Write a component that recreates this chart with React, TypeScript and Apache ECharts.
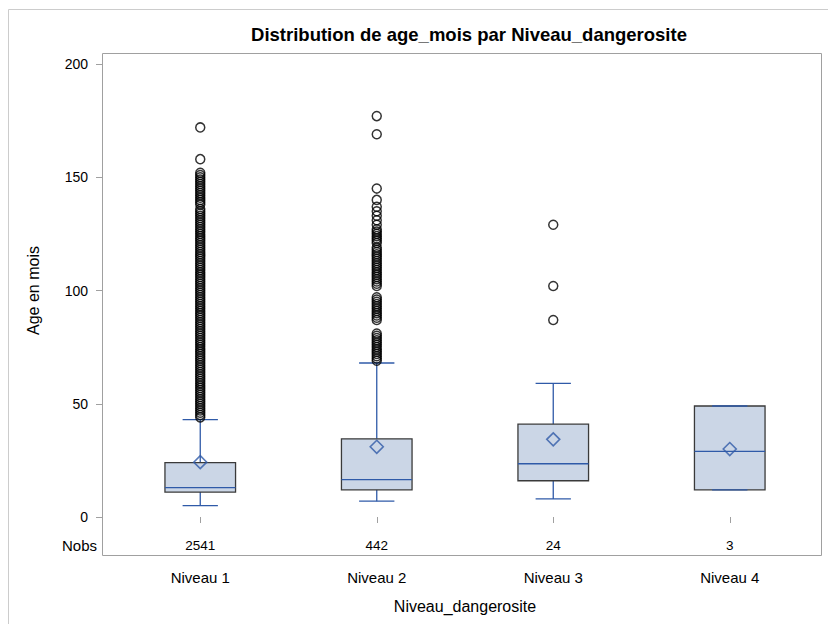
import React, { useEffect, useRef } from "react";
import * as echarts from "echarts";

const categories = ["Niveau 1", "Niveau 2", "Niveau 3", "Niveau 4"];
const whiskerLow = [5, 7, 8, 12];
const q1 = [11, 12, 16, 12];
const median = [13, 16.5, 23.5, 29];
const q3 = [24, 34.5, 41, 49];
const whiskerHigh = [43, 68, 59, 49];
const means = [24.2, 31, 34.3, 30];
const nobs = [2541, 442, 24, 3];

const outliers1 = [
  44, 45, 46, 47, 48, 49, 50, 51, 52, 53, 54, 55, 56, 57, 58, 59, 60, 61, 62, 63, 64, 65,
  66, 67, 68, 69, 70, 71, 72, 73, 74, 75, 76, 77, 78, 79, 80, 81, 82, 83, 84, 85, 86, 87,
  88, 89, 90, 91, 92, 93, 94, 95, 96, 97, 98, 99, 100, 101, 102, 103, 104, 105, 106, 107,
  108, 109, 110, 111, 112, 113, 114, 115, 116, 117, 118, 119, 120, 121, 122, 123, 124, 125,
  126, 127, 128, 129, 130, 131, 132, 133, 134, 135, 136, 138, 139, 140, 141, 142, 143, 144,
  145, 146, 147, 148, 149, 150, 151, 152, 158, 172,
];
const outliers2 = [
  69, 70, 71, 72, 73, 74, 75, 76, 77, 78, 79, 80, 81, 87, 88, 89, 90, 91, 92, 93, 94, 95,
  96, 97, 102, 103, 104, 105, 106, 107, 108, 109, 110, 111, 112, 113, 114, 115, 116, 117,
  118, 119, 121, 122, 123, 124, 125, 126, 127, 129, 131, 133, 135, 137, 140, 145, 169, 177,
];
const outliers3 = [87, 102, 129];
const outliers4: number[] = [];

const yTicks = { min: 0, max: 200, interval: 50 };

const FONT = "'Liberation Sans', Arial, sans-serif";
const BLUE = "#2f5aa8";
const FILL = "#cbd6e6";
const BOX_STROKE = "#3a3a3a";

export default function App() {
  const ref = useRef<HTMLDivElement>(null);
  useEffect(() => {
    if (!ref.current) return;
    const chart = echarts.init(ref.current, undefined, { renderer: "svg" });

    const boxData = categories.map((c, i) => [
      i,
      whiskerLow[i],
      q1[i],
      median[i],
      q3[i],
      whiskerHigh[i],
      nobs[i],
    ]);
    const allOutliers = [outliers1, outliers2, outliers3, outliers4];
    const outlierData: any[] = [];
    allOutliers.forEach((arr, i) => arr.forEach((v) => outlierData.push([categories[i], v])));
    const meanData = categories.map((c, i) => [c, means[i]]);

    const option: any = {
      animation: false,
      backgroundColor: "#ffffff",
      textStyle: { fontFamily: FONT },
      title: {
        text: "Distribution de age_mois par Niveau_dangerosite",
        left: 464,
        top: 20,
        textAlign: "center",
        textStyle: { fontFamily: FONT, fontSize: 18.5, fontWeight: "bold", color: "#000" },
      },
      graphic: [
        {
          type: "rect",
          shape: { x: 8.5, y: 9.5, width: 840, height: 640 },
          style: { fill: "none", stroke: "#cccccc", lineWidth: 1 },
          silent: true,
        },
        {
          type: "rect",
          shape: { x: 102.5, y: 53.5, width: 719, height: 502 },
          style: { fill: "none", stroke: "#a0a0a0", lineWidth: 1 },
          silent: true,
          z: 100,
        },
        {
          type: "text",
          x: 97,
          y: 545,
          style: {
            text: "Nobs",
            fontFamily: FONT,
            fontSize: 15,
            fill: "#000",
            align: "right",
            verticalAlign: "middle",
          },
          silent: true,
        },
      ],
      grid: { left: 112, right: 10, top: 64, bottom: 107, containLabel: false },
      xAxis: {
        type: "category",
        data: categories,
        offset: 39,
        boundaryGap: true,
        axisLine: { show: false },
        axisTick: { show: true, alignWithLabel: true, length: 6, lineStyle: { color: "#a0a0a0" } },
        axisLabel: { margin: 14, fontSize: 15, color: "#000", fontFamily: FONT },
        splitLine: { show: false },
        name: "Niveau_dangerosite",
        nameLocation: "middle",
        nameGap: 42,
        nameTextStyle: { fontSize: 16, color: "#000", fontFamily: FONT },
      },
      yAxis: {
        type: "value",
        min: yTicks.min,
        max: yTicks.max,
        interval: yTicks.interval,
        offset: 10,
        axisLine: { show: false },
        axisTick: { show: true, length: 6, lineStyle: { color: "#a0a0a0" } },
        axisLabel: { margin: 14, fontSize: 14, color: "#000", fontFamily: FONT },
        splitLine: { show: false },
        name: "Age en mois",
        nameLocation: "middle",
        nameGap: 61,
        nameTextStyle: { fontSize: 16, color: "#000", fontFamily: FONT },
      },
      series: [
        {
          type: "custom",
          clip: false,
          data: boxData,
          encode: { x: 0, y: [1, 2, 3, 4, 5] },
          renderItem: (params: any, api: any) => {
            const i = api.value(0);
            const x = api.coord([i, 0])[0];
            const y0 = api.coord([i, 0])[1];
            const band = api.size([1, 0])[0];
            const bw = band * 0.4;
            const cap = bw / 2;
            const yLow = api.coord([i, api.value(1)])[1];
            const yQ1 = api.coord([i, api.value(2)])[1];
            const yMed = api.coord([i, api.value(3)])[1];
            const yQ3 = api.coord([i, api.value(4)])[1];
            const yHigh = api.coord([i, api.value(5)])[1];
            const n = api.value(6);
            const lineStyle = { stroke: BLUE, lineWidth: 1.3 };
            return {
              type: "group",
              children: [
                {
                  type: "line",
                  shape: { x1: x, y1: yLow, x2: x, y2: yQ1 },
                  style: lineStyle,
                },
                {
                  type: "line",
                  shape: { x1: x, y1: yQ3, x2: x, y2: yHigh },
                  style: lineStyle,
                },
                {
                  type: "rect",
                  shape: { x: x - bw / 2, y: yQ3, width: bw, height: yQ1 - yQ3 },
                  style: { fill: FILL, stroke: BOX_STROKE, lineWidth: 1.3 },
                },
                {
                  type: "line",
                  shape: { x1: x - bw / 2, y1: yMed, x2: x + bw / 2, y2: yMed },
                  style: lineStyle,
                },
                {
                  type: "line",
                  shape: { x1: x - cap / 2, y1: yLow, x2: x + cap / 2, y2: yLow },
                  style: lineStyle,
                },
                {
                  type: "line",
                  shape: { x1: x - cap / 2, y1: yHigh, x2: x + cap / 2, y2: yHigh },
                  style: lineStyle,
                },
                {
                  type: "text",
                  x: x,
                  y: y0 + 28,
                  style: {
                    text: String(n),
                    fontFamily: FONT,
                    fontSize: 13.5,
                    fill: "#000",
                    align: "center",
                    verticalAlign: "middle",
                  },
                },
              ],
            };
          },
          z: 2,
        },
        {
          type: "scatter",
          data: outlierData,
          symbol: "circle",
          symbolSize: 9,
          itemStyle: { color: "rgba(0,0,0,0)", borderColor: "#000", borderWidth: 1.5 },
          z: 3,
        },
        {
          type: "scatter",
          data: meanData,
          symbol: "diamond",
          symbolSize: 13,
          itemStyle: { color: "rgba(0,0,0,0)", borderColor: BLUE, borderWidth: 1.6 },
          z: 4,
        },
      ],
    };
    chart.setOption(option);
    return () => chart.dispose();
  }, []);
  return (
    <div
      ref={ref}
      style={{ position: "fixed", left: 0, top: 0, width: 828, height: 624, background: "#fff" }}
    />
  );
}
